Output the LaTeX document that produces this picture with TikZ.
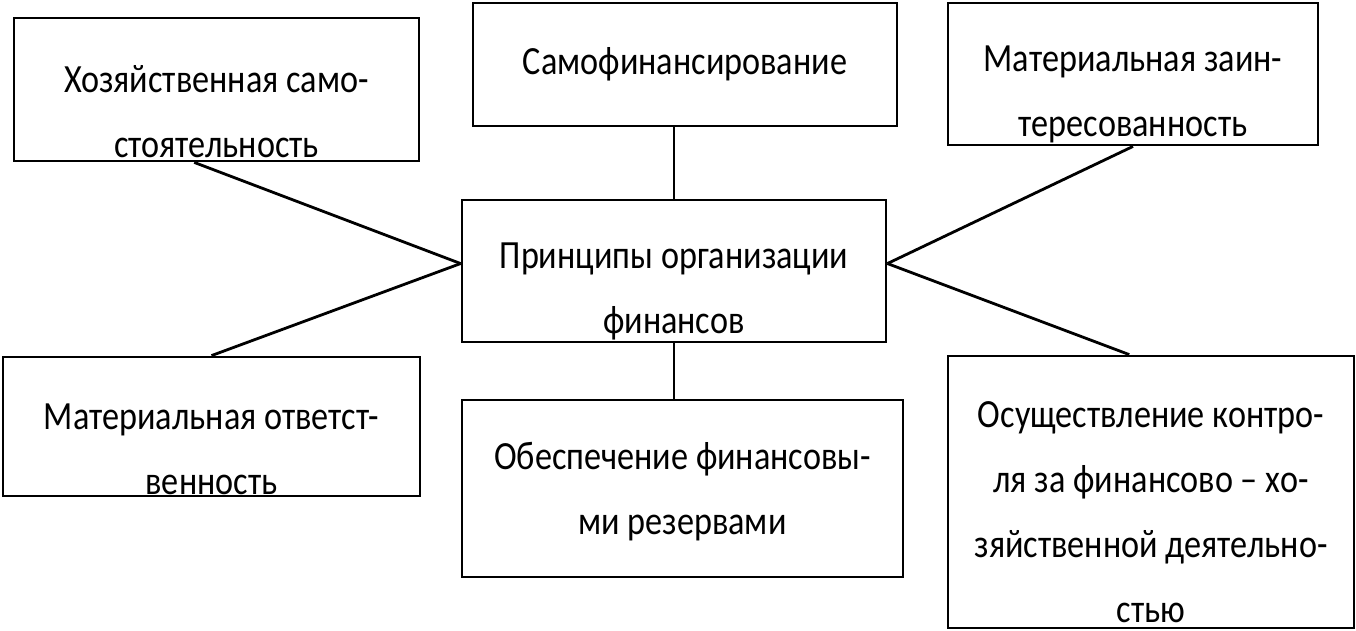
\documentclass[tikz,border=0pt]{standalone}
\usepackage{fontspec}
\newfontfamily\boxfont{Carlito}[FakeStretch=0.855]

\tikzset{
    box/.style={draw,line width=2.8pt,inner sep=0pt},
    txt/.style={align=center,inner sep=0pt,font=\boxfont\fontsize{40}{65}\selectfont},
    link/.style={line width=2.8pt}
}

\begin{document}
\begin{tikzpicture}[x=1pt,y=-1pt]
            \useasboundingbox (0,0) rectangle (1356,631);

            \node[box,minimum width=405pt,minimum height=143pt,label={[txt,yshift=-22pt]center:Хозяйственная само-\\стоятельность}] (Independence) at (216.5,89.5) {};
            \node[box,minimum width=424pt,minimum height=123pt,label={[txt]center:Самофинансирование}] (Selffinancing) at (685,64.5) {};
            \node[box,minimum width=370pt,minimum height=142pt,label={[txt,yshift=-20pt]center:Материальная заин-\\тересованность}] (Interest) at (1133,74) {};
            \node[box,minimum width=424pt,minimum height=142pt,label={[txt,yshift=-20pt]center:Принципы организации\\финансов}] (Principles) at (674,271) {};
            \node[box,minimum width=417pt,minimum height=139pt,label={[txt,yshift=-23pt]center:Материальная ответст-\\венность}] (Responsibility) at (211.5,426.5) {};
            \node[box,minimum width=441pt,minimum height=177pt,label={[txt,yshift=-3pt]center:Обеспечение финансовы-\\ми резервами}] (Reserves) at (682.5,488.5) {};
            \node[box,minimum width=406pt,minimum height=272pt,label={[txt,yshift=-20pt]center:Осуществление контро-\\ля за финансово – хо-\\зяйственной деятельно-\\стью}] (Control) at (1151,492) {};

            \draw[link] (Independence.253) to (Principles.178);
            \draw[link] (Responsibility.north) to (Principles.178);
            \draw[link] (Principles.north) to (Principles.north |- Selffinancing.south);
            \draw[link] (Principles.south) to (Principles.south |- Reserves.north);
            \draw[link] (Interest.south) to (Principles.2);
            \draw[link] (Control.99) to (Principles.2);

        \end{tikzpicture}
\end{document}
